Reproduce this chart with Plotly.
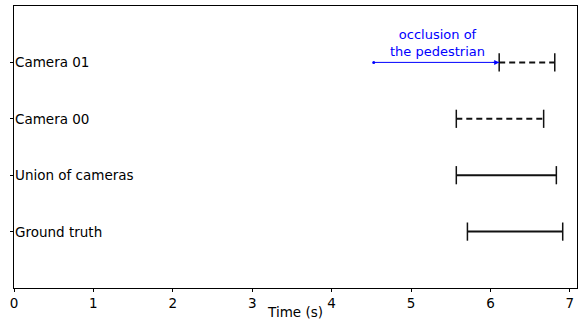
import plotly.graph_objects as go

labels = ["Ground truth", "Union of cameras", "Camera 00", "Camera 01"]
starts = [5.71, 5.57, 5.57, 6.11]
ends = [6.91, 6.83, 6.67, 6.81]
dashed = [False, False, True, True]
occl_start = 4.53
occl_end = 6.11
occl_text = "occlusion of<br>the pedestrian"

fig = go.Figure()
for i, (lab, s, e, d) in enumerate(zip(labels, starts, ends, dashed)):
    fig.add_trace(go.Scatter(
        x=[s, e], y=[i, i], mode="lines",
        line=dict(color="#111111", width=2, dash="6px,4px" if d else "solid"),
        showlegend=False, hoverinfo="skip"))
    fig.add_trace(go.Scatter(
        x=[s, e], y=[i, i], mode="markers",
        marker=dict(symbol="line-ns", size=13, line=dict(color="#111111", width=1.5)),
        showlegend=False, hoverinfo="skip"))

# occlusion arrow
fig.add_trace(go.Scatter(
    x=[occl_start, occl_end], y=[3, 3], mode="lines",
    line=dict(color="blue", width=1), showlegend=False, hoverinfo="skip"))
fig.add_trace(go.Scatter(
    x=[occl_start], y=[3], mode="markers",
    marker=dict(symbol="circle", size=3, color="blue"),
    showlegend=False, hoverinfo="skip"))
fig.add_annotation(x=occl_end, y=3, ax=occl_end - 0.1, ay=3, xref="x", yref="y",
                   axref="x", ayref="y", showarrow=True, arrowhead=2, arrowsize=1,
                   arrowwidth=1, arrowcolor="blue", text="")
fig.add_annotation(x=(occl_start + occl_end) / 2 + 0.01, y=3, yshift=1, xref="x", yref="y",
                   text=occl_text, showarrow=False, yanchor="bottom",
                   font=dict(color="blue", size=13, family="DejaVu Sans"))

for i, lab in enumerate(labels):
    fig.add_annotation(x=0, y=i, xref="x", yref="y", text=lab, showarrow=False,
                       xanchor="left", xshift=-1,
                       font=dict(color="black", size=13.5, family="DejaVu Sans"))

fig.update_layout(
    width=585, height=320,
    margin=dict(l=14, r=8, t=6, b=32),
    paper_bgcolor="white", plot_bgcolor="white",
    font=dict(family="DejaVu Sans", size=13.5, color="black"),
    xaxis=dict(range=[0, 7.09], tickvals=list(range(8)), showgrid=False, zeroline=False,
               showline=True, linecolor="black", linewidth=1, mirror=True,
               ticks="outside", ticklen=3, tickcolor="black", automargin=False,
               tickfont=dict(size=13.5),
               title=dict(text="Time (s)", standoff=0, font=dict(size=13.5))),
    yaxis=dict(range=[-1, 4], tickvals=[0, 1, 2, 3], ticktext=["", "", "", ""],
               showgrid=False, zeroline=False, showline=True, linecolor="black",
               linewidth=1, mirror=True, ticks="outside", ticklen=3, tickcolor="black",
               automargin=False),
)

fig.write_html("out.html", config={"displayModeBar": False},
               post_script="document.body.style.margin='0';")
